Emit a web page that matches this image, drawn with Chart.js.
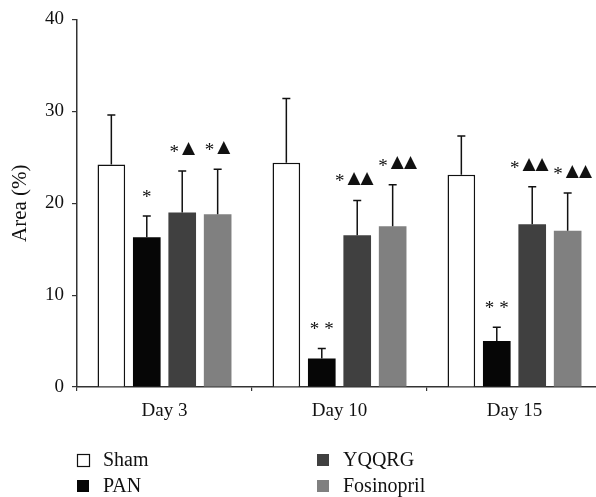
<!DOCTYPE html>
<html>
<head>
<meta charset="utf-8">
<script src="https://cdn.jsdelivr.net/npm/chart.js@4/dist/chart.umd.min.js"></script>
<style>
  html, body { margin: 0; padding: 0; background: #fff; overflow: hidden; width: 596px; height: 497px; }
  #wrap { width: 603px; height: 497px; }
</style>
</head>
<body>
<div id="wrap"><canvas id="c" width="603" height="497"></canvas></div>
<script>
const categories = ["Day 3", "Day 10", "Day 15"];
const seriesNames = ["Sham", "PAN", "YQQRG", "Fosinopril"];
const shamValues = [24.2, 24.4, 23.1];
const shamErrors = [5.4, 7.0, 4.2];
const panValues = [16.3, 3.1, 5.0];
const panErrors = [2.3, 1.1, 1.5];
const yqqrgValues = [19.0, 16.5, 17.7];
const yqqrgErrors = [4.5, 3.8, 4.1];
const fosValues = [18.8, 17.5, 17.0];
const fosErrors = [4.9, 4.5, 4.1];
const shamMarks = ["", "", ""];
const panMarks = ["*", "**", "**"];
const yqqrgMarks = ["*\u25B2", "*\u25B2\u25B2", "*\u25B2\u25B2"];
const fosMarks = ["*\u25B2", "*\u25B2\u25B2", "*\u25B2\u25B2"];
const yTicks = [0, 10, 20, 30, 40];

const FONT = "'Liberation Serif', 'Times New Roman', serif";

const datasets = [
  { label: seriesNames[0], data: shamValues, errors: shamErrors, marks: shamMarks,
    backgroundColor: "#ffffff", borderColor: "#111111", borderWidth: 1.5 },
  { label: seriesNames[1], data: panValues, errors: panErrors, marks: panMarks,
    backgroundColor: "#060606", borderColor: "#060606", borderWidth: 0 },
  { label: seriesNames[2], data: yqqrgValues, errors: yqqrgErrors, marks: yqqrgMarks,
    backgroundColor: "#404040", borderColor: "#404040", borderWidth: 0 },
  { label: seriesNames[3], data: fosValues, errors: fosErrors, marks: fosMarks,
    backgroundColor: "#808080", borderColor: "#808080", borderWidth: 0 }
];
datasets.forEach(d => { d.categoryPercentage = 0.81; d.barPercentage = 0.78; });

function drawMark(ctx, text, cx, cy) {
  const chars = Array.from(text);
  const parts = chars.map((ch, i) => {
    const isTri = ch === "\u25B2";
    const font = isTri ? "17px 'DejaVu Sans', sans-serif" : "19px " + FONT;
    ctx.font = font;
    const w = ctx.measureText(ch).width;
    const next = chars[i + 1];
    const gap = isTri ? 0 : (next === "\u25B2" ? 3 : 5);
    return { ch, font, w, gap, dy: isTri ? 0 : 4 };
  });
  let total = 0;
  parts.forEach((p, i) => { total += p.w + (i < parts.length - 1 ? p.gap : 0); });
  let x = cx - total / 2;
  ctx.textAlign = "left";
  ctx.textBaseline = "middle";
  parts.forEach(p => {
    ctx.font = p.font;
    ctx.fillText(p.ch, x, cy + p.dy);
    x += p.w + p.gap;
  });
}

const errorBarPlugin = {
  id: "errorBars",
  afterDatasetsDraw(chart) {
    const ctx = chart.ctx;
    const y = chart.scales.y;
    ctx.save();
    chart.data.datasets.forEach((ds, i) => {
      const meta = chart.getDatasetMeta(i);
      meta.data.forEach((bar, j) => {
        const top = y.getPixelForValue(ds.data[j] + ds.errors[j]);
        ctx.strokeStyle = "#111";
        ctx.lineWidth = 1.5;
        ctx.beginPath();
        ctx.moveTo(bar.x, bar.y);
        ctx.lineTo(bar.x, top);
        ctx.moveTo(bar.x - 4, top);
        ctx.lineTo(bar.x + 4, top);
        ctx.stroke();
        const mark = ds.marks[j];
        if (mark) {
          ctx.fillStyle = "#111";
          const wide = Array.from(mark).length > 2;
          const shift = wide ? (i === 2 ? -3 : i === 3 ? 5 : 0) : 0;
          drawMark(ctx, mark, bar.x + shift, top - 22);
        }
      });
    });
    ctx.restore();
  }
};

const legendPlugin = {
  id: "customLegend",
  afterDraw(chart) {
    const ctx = chart.ctx;
    const left = chart.chartArea.left;
    const order = [[0, 0, 0], [2, 1, 0], [1, 0, 1], [3, 1, 1]];
    ctx.save();
    ctx.font = "20px " + FONT;
    ctx.textBaseline = "middle";
    ctx.textAlign = "left";
    order.forEach(([di, col, row]) => {
      const ds = chart.data.datasets[di];
      const bx = left + col * 240;
      const cy = 460 + row * 26;
      ctx.fillStyle = ds.backgroundColor;
      ctx.fillRect(bx, cy - 6, 12, 12);
      if (di === 0) {
        ctx.strokeStyle = "#111";
        ctx.lineWidth = 1.2;
        ctx.strokeRect(bx + 0.5, cy - 5.5, 12, 12);
      }
      ctx.fillStyle = "#111";
      ctx.fillText(ds.label, bx + 26, cy + 1);
    });
    ctx.restore();
  }
};

new Chart(document.getElementById("c"), {
  type: "bar",
  data: { labels: categories, datasets },
  plugins: [errorBarPlugin, legendPlugin],
  options: {
    responsive: false,
    animation: false,
    layout: { padding: { top: 18, right: 1, left: 0, bottom: 0 } },
    plugins: { legend: { display: false }, tooltip: { enabled: false } },
    scales: {
      x: {
        offset: true,
        grid: { display: true, drawOnChartArea: false, offset: true, tickLength: 4, color: "#333", lineWidth: 1.2 },
        border: { display: true, color: "#333", width: 1.5 },
        ticks: { font: { family: FONT, size: 19 }, color: "#111", padding: 9 },
        afterFit(scale) { scale.height = 110; }
      },
      y: {
        min: 0, max: 40,
        afterBuildTicks(scale) { scale.ticks = yTicks.map(v => ({ value: v })); },
        grid: { display: true, drawOnChartArea: false, tickLength: 5, color: "#333", lineWidth: 1.2 },
        border: { display: true, color: "#333", width: 1.5 },
        ticks: { font: { family: FONT, size: 19 }, color: "#111", padding: 8 },
        title: { display: true, text: "Area (%)", font: { family: FONT, size: 21 }, color: "#111", padding: { top: 8, bottom: 0 } },
        afterFit(scale) { scale.width = 77; }
      }
    }
  }
});
</script>
</body>
</html>
